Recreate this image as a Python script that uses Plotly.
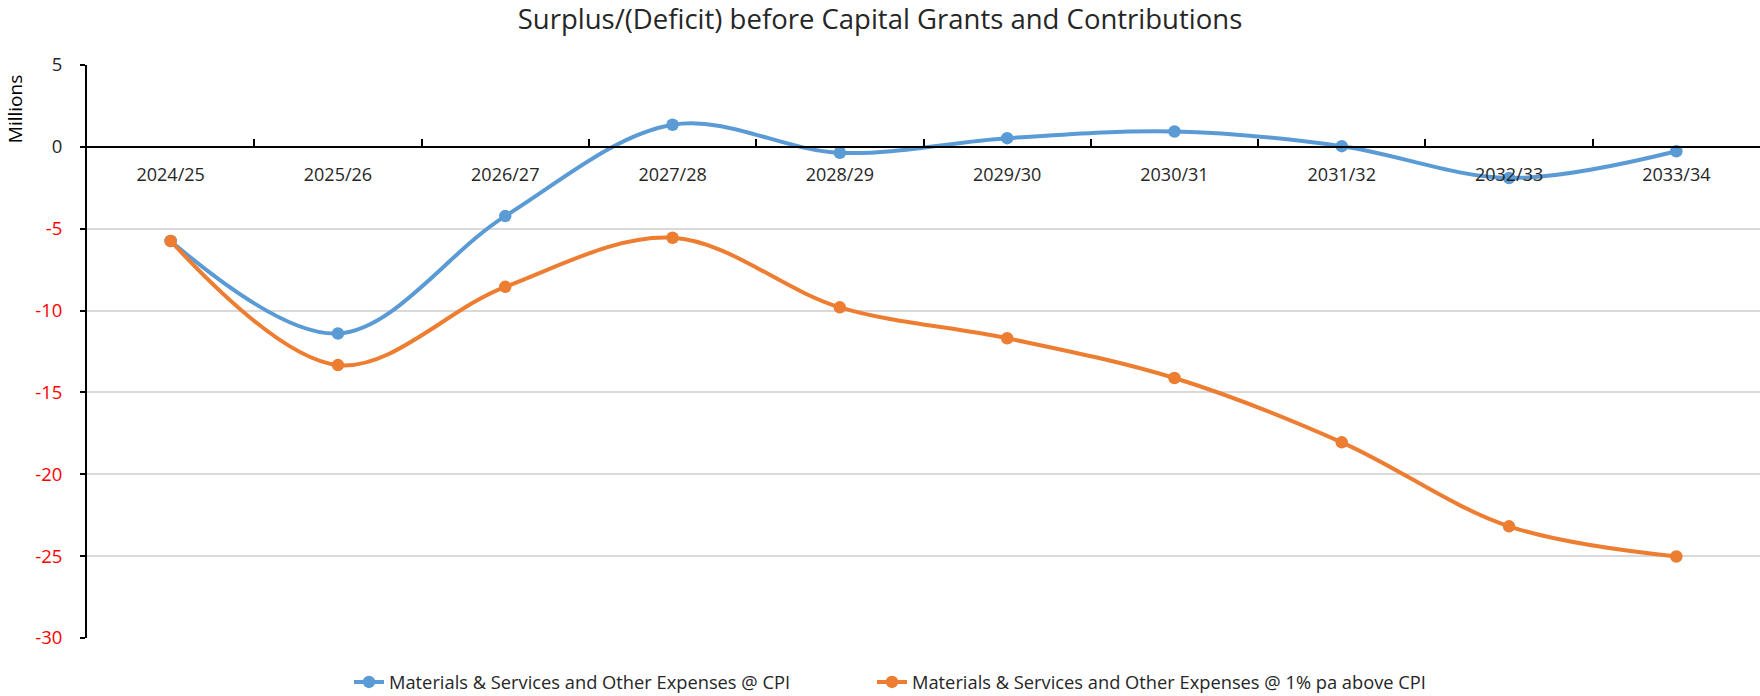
import plotly.graph_objects as go

# Financial years on the category axis
years = ["2024/25", "2025/26", "2026/27", "2027/28", "2028/29",
         "2029/30", "2030/31", "2031/32", "2032/33", "2033/34"]

# Surplus/(deficit) in millions for each scenario
cpi = [-5.75, -11.4, -4.23, 1.35, -0.36, 0.53, 0.94, 0.04, -1.9, -0.27]
cpi_plus_1 = [-5.75, -13.33, -8.55, -5.55, -9.8, -11.69, -14.12, -18.05, -23.18, -25.02]

series_names = ["Materials & Services and Other Expenses @ CPI",
                "Materials & Services and Other Expenses @ 1% pa above CPI"]
series_colors = ["#5B9BD5", "#ED7D31"]

y_ticks = [5, 0, -5, -10, -15, -20, -25, -30]
y_min, y_max = -30, 5

FONT = "'Open Sans', Lato, sans-serif"
LEGEND_FONT = dict(family=FONT, size=18.3, color="#262626")


def tick_text(v):
    # negative values shown in red, as in the source number format
    if v < 0:
        return f'<span style="color:#FF0000">{v}</span>'
    return str(v)


fig = go.Figure()
for i, (name, vals, color) in enumerate(zip(series_names, [cpi, cpi_plus_1], series_colors)):
    fig.add_trace(go.Scatter(
        x=years, y=vals, name=name, mode="lines+markers",
        line=dict(color=color, width=4, shape="spline", smoothing=1.0),
        marker=dict(color=color, size=12.5),
        legend="legend" if i == 0 else "legend2",
    ))

fig.update_layout(
    width=1760, height=696,
    margin=dict(l=87, r=0, t=65, b=58, autoexpand=False),
    paper_bgcolor="white", plot_bgcolor="white",
    font=dict(family=FONT, size=16, color="#404040"),
    title=dict(
        text="Surplus/(Deficit) before Capital Grants and Contributions",
        x=0.5, xref="container", xanchor="center",
        y=1 - 19 / 696, yref="container", yanchor="middle",
        font=dict(family=FONT, size=27.5, color="#262626"),
    ),
    showlegend=True,
    legend=dict(
        orientation="h", xref="container", yref="container",
        x=349 / 1760, xanchor="left", y=14 / 696, yanchor="middle",
        font=LEGEND_FONT,
    ),
    legend2=dict(
        orientation="h", xref="container", yref="container",
        x=872 / 1760, xanchor="left", y=14 / 696, yanchor="middle",
        font=LEGEND_FONT,
    ),
)

fig.update_xaxes(
    type="category",
    anchor="free", position=(0 - y_min) / (y_max - y_min),
    showline=True, linecolor="black", linewidth=2,
    ticks="inside", tickson="boundaries", ticklen=7, tickcolor="black", tickwidth=1.5,
    showgrid=False,
    tickfont=dict(family=FONT, size=18, color="#262626"),
    ticklabelstandoff=12,
    range=[-0.5, len(years) - 0.5],
)

fig.update_yaxes(
    range=[y_min, y_max],
    tickvals=y_ticks, ticktext=[tick_text(v) for v in y_ticks],
    showline=True, linecolor="black", linewidth=2,
    ticks="outside", ticklen=5, tickcolor="black", tickwidth=1.5,
    showgrid=True, gridcolor="#D9D9D9", gridwidth=1.5,
    zeroline=False,
    tickfont=dict(family=FONT, size=18.5, color="#262626"),
    ticklabelstandoff=14,
)

fig.add_annotation(
    text="Millions", textangle=-90,
    xref="paper", x=0, xshift=-72, xanchor="center",
    yref="y", y=2.3, yanchor="middle",
    showarrow=False,
    font=dict(family=FONT, size=19, color="black"),
)

fig.write_html("out.html")
